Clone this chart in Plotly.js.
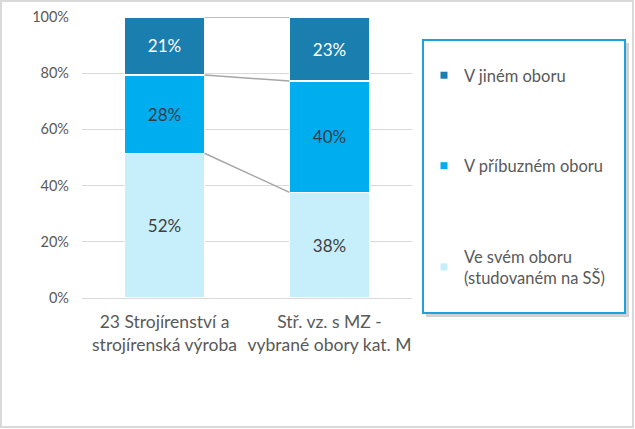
<!DOCTYPE html>
<html>
<head>
<meta charset="utf-8">
<script src="https://cdn.plot.ly/plotly-3.0.1.min.js"></script>
<style>html,body{margin:0;padding:0;background:#fff;}#chart{width:635px;height:429px;}</style>
</head>
<body>
<div id="chart"></div>
<script>
// ---- data ----
const categories = ['23 Strojírenství a<br>strojírenská výroba', 'Stř. vz. s MZ -<br>vybrané obory kat. M'];
const seriesNames = ['Ve svém oboru<br>(studovaném na SŠ)', 'V příbuzném oboru', 'V jiném oboru'];
const vlastniObor = [51.5, 37.6];
const pribuznyObor = [27.9, 39.6];
const jinyObor = [20.6, 22.8];
const yTickVals = [0, 20, 40, 60, 80, 100];
const yTickText = ['0%', '20%', '40%', '60%', '80%', '100%'];

// ---- style ----
const colors = ['#C6EEFB', '#00AEEF', '#1A7FAE'];
const textColors = ['#3F3F3F', '#2F3B48', '#FFFFFF'];
const FONT = 'Lato, "Open Sans", sans-serif';
const series = [vlastniObor, pribuznyObor, jinyObor];

// plot-area geometry in pixels (for paper-coordinate helpers)
const L = 82, R = 412, T = 17, B = 298, W = 635, H = 429;
const px = v => (v - L) / (R - L);
const py = v => (B - v) / (B - T);
const bargap = 0.515;
const halfBar = (1 - bargap) / 2;

const traces = series.map((vals, i) => ({
  type: 'bar',
  x: categories,
  y: vals,
  name: seriesNames[i],
  marker: {color: colors[i], line: {color: '#FFFFFF', width: 1.5}},
  text: vals.map(v => Math.round(v) + '%'),
  textposition: 'inside',
  insidetextanchor: 'middle',
  textangle: 0,
  textfont: {family: FONT, size: 17, color: textColors[i]},
  hoverinfo: 'skip',
  showlegend: false,
  cliponaxis: false
}));

// legend-only traces (small square markers)
for (let i = series.length - 1; i >= 0; i--) {
  traces.push({
    type: 'scatter', mode: 'markers', x: [null], y: [null],
    name: seriesNames[i], legendgroup: 'g' + i,
    marker: {symbol: 'square', size: 7, color: colors[i]},
    showlegend: true, hoverinfo: 'skip'
  });
}

// series connector lines, computed from cumulative sums
const shapes = [];
let cum0 = 0, cum1 = 0;
series.forEach(vals => {
  cum0 += vals[0]; cum1 += vals[1];
  shapes.push({
    type: 'line', xref: 'x', yref: 'y', layer: 'above',
    x0: 0 + halfBar, x1: 1 - halfBar, y0: cum0, y1: cum1,
    line: {color: '#A6A6A6', width: 1.5}
  });
});

// legend frame with shadow
shapes.push({type: 'rect', xref: 'paper', yref: 'paper', layer: 'above',
  x0: px(426), x1: px(629), y0: py(317), y1: py(43),
  fillcolor: 'rgba(0,0,0,0.18)', line: {width: 0}});
shapes.push({type: 'rect', xref: 'paper', yref: 'paper', layer: 'above',
  x0: px(423), x1: px(625), y0: py(313), y1: py(40),
  fillcolor: '#FFFFFF', line: {color: '#1CA2DC', width: 2}});
// chart border
shapes.push({type: 'rect', xref: 'paper', yref: 'paper', layer: 'above',
  x0: px(1), x1: px(W - 2), y0: py(H - 2), y1: py(1),
  fillcolor: 'rgba(0,0,0,0)', line: {color: '#D9D9D9', width: 2}});

const layout = {
  width: W, height: H,
  margin: {l: L, r: W - R, t: T, b: H - B, pad: 0},
  paper_bgcolor: '#FFFFFF', plot_bgcolor: '#FFFFFF',
  barmode: 'stack', bargap: bargap,
  font: {family: FONT, size: 15, color: '#595959'},
  showlegend: true,
  legend: {
    x: px(424), y: py(58), xanchor: 'left', yanchor: 'top',
    traceorder: 'grouped', tracegroupgap: 66,
    bgcolor: 'rgba(0,0,0,0)', borderwidth: 0,
    font: {family: FONT, size: 16.5, color: '#595959'},
    itemwidth: 30
  },
  xaxis: {
    type: 'category', showgrid: false, showline: true, linecolor: '#D9D9D9', linewidth: 1,
    ticks: '', tickfont: {family: FONT, size: 17.5, color: '#595959'},
    fixedrange: true, ticklabelstandoff: 8
  },
  yaxis: {
    range: [0, 100], tickvals: yTickVals, ticktext: yTickText,
    showgrid: true, gridcolor: '#D9D9D9', gridwidth: 1, zeroline: false,
    showline: false, ticks: '', ticklabelstandoff: 12,
    tickfont: {family: FONT, size: 14.5, color: '#595959'}, fixedrange: true
  },
  shapes: shapes
};

Plotly.newPlot('chart', traces, layout, {displayModeBar: false, staticPlot: true});
</script>
</body>
</html>
